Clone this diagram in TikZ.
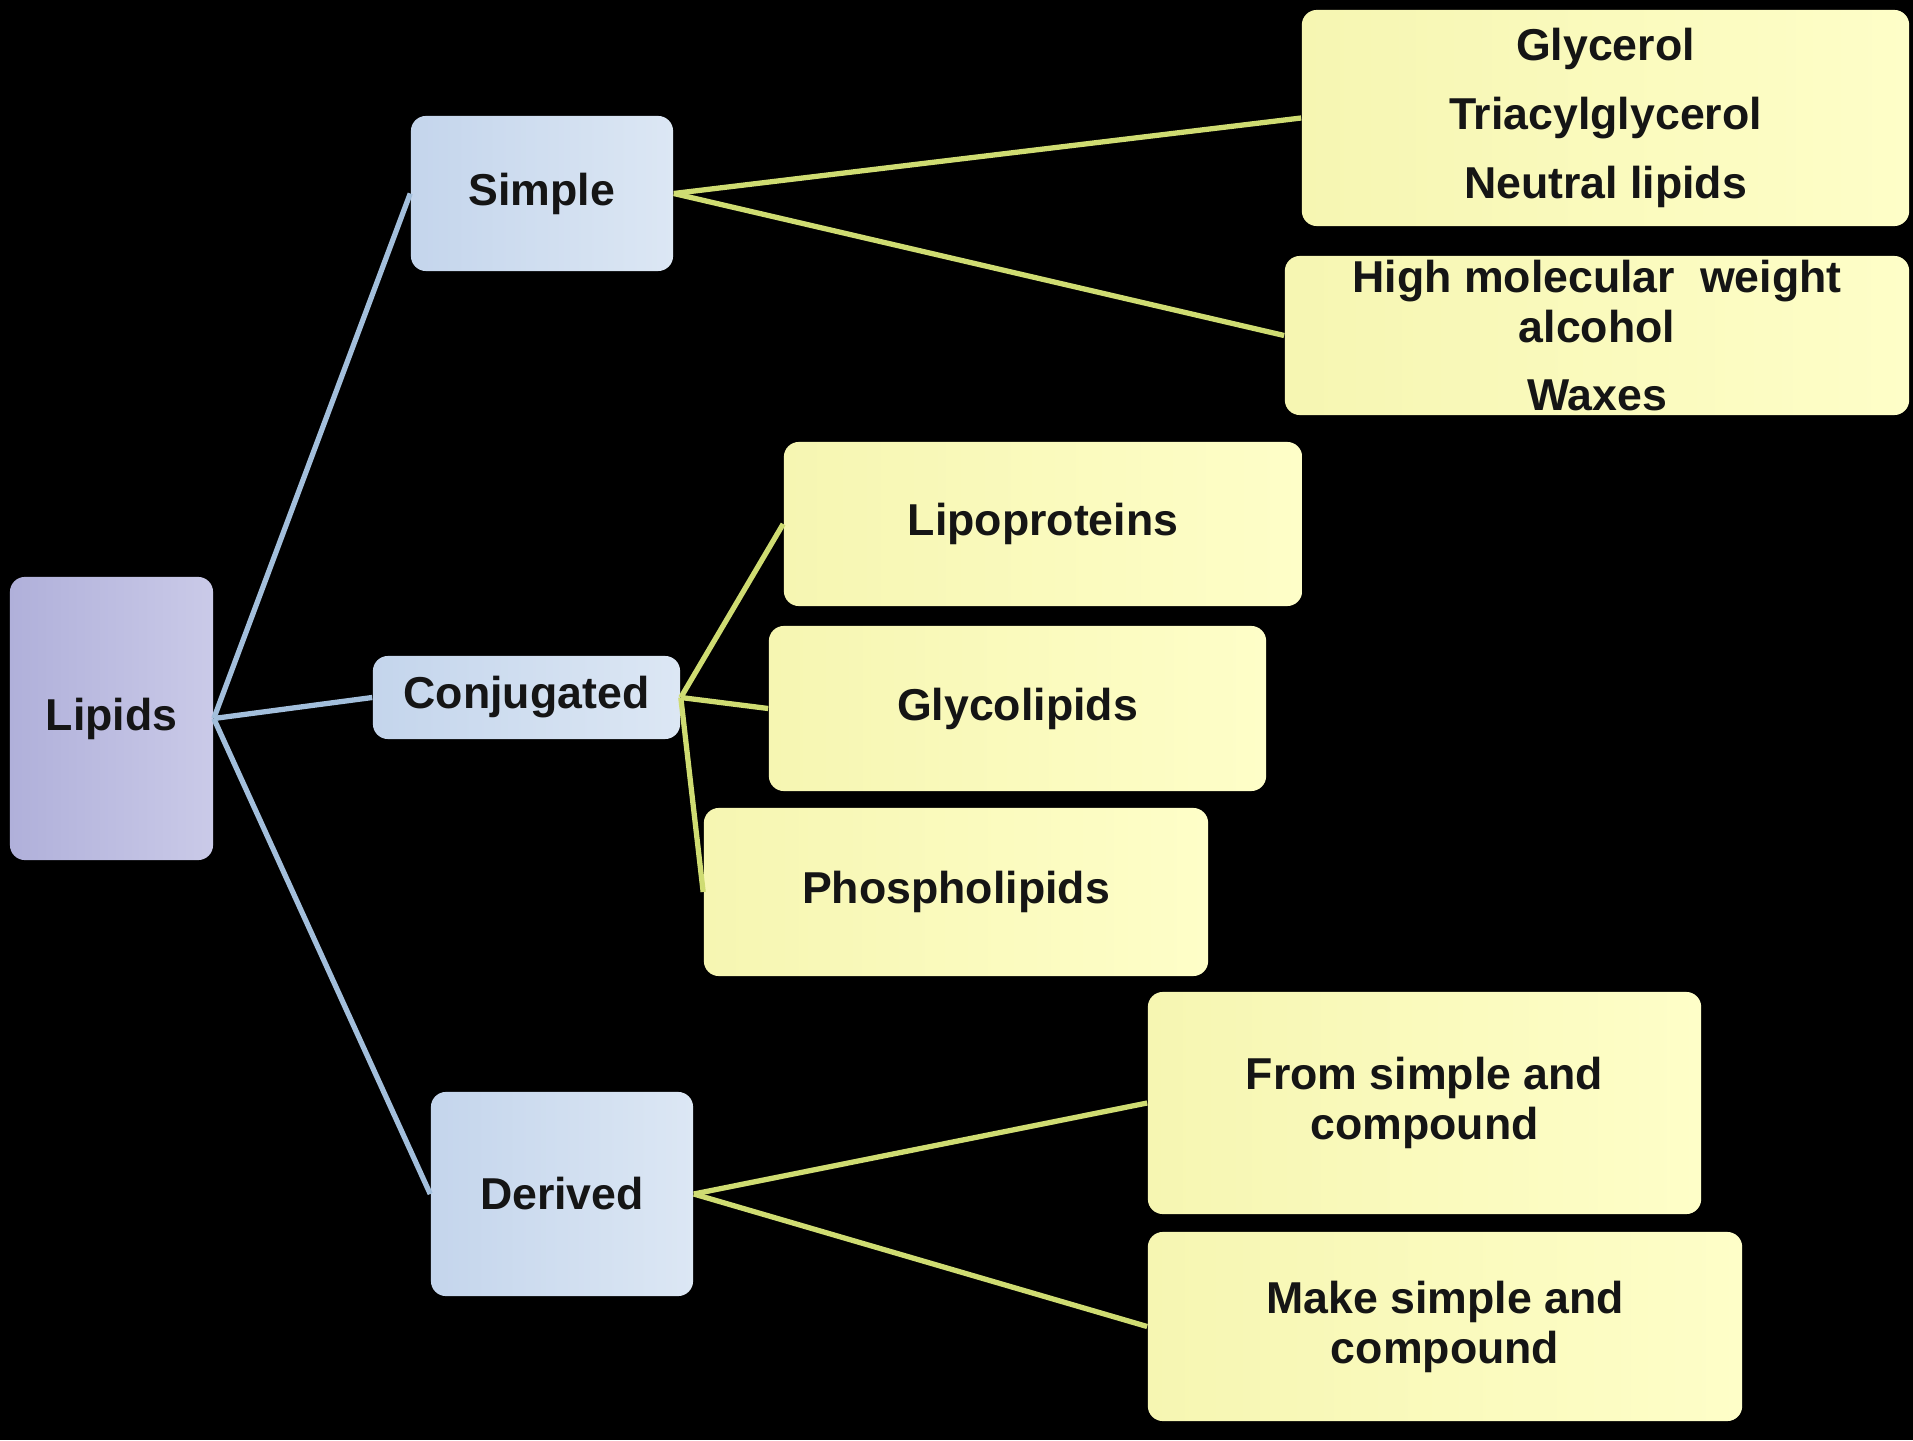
\documentclass[tikz,border=0pt]{standalone}
\usepackage{fontspec}
\setmainfont{Liberation Sans}
\usetikzlibrary{shadings}
\definecolor{txt}{HTML}{151515}
\definecolor{bluelink}{HTML}{A3BFDC}
\definecolor{greenlink}{HTML}{CFDC72}
\tikzset{
  x=0.01cm, y=-0.01cm,
  box/.style={rounded corners=0.15cm, inner sep=0pt, align=center,
    text=txt, font=\fontsize{12.7}{14.2}\selectfont\bfseries},
  lipbox/.style={box, left color=lipL, right color=lipR},
  catbox/.style={box, left color=catL, right color=catR},
  leafbox/.style={box, left color=leafL, right color=leafR},
  bluecon/.style={draw=bluelink, line width=1.5pt},
  greencon/.style={draw=greenlink, line width=1.5pt},
}
\definecolor{lipL}{HTML}{B0B0DA}
\definecolor{lipR}{HTML}{CACAE8}
\definecolor{catL}{HTML}{C4D5EC}
\definecolor{catR}{HTML}{DCE7F4}
\definecolor{leafL}{HTML}{F6F6B2}
\definecolor{leafR}{HTML}{FEFEC8}
\begin{document}
\begin{tikzpicture}
\fill[black] (0,0) rectangle (1913,1440);
\useasboundingbox (0,0) rectangle (1913,1440);

\node[lipbox, minimum width=2.03cm, minimum height=2.83cm] (lipids) at (111.5,718.5) {Lipids};
\node[catbox, minimum width=2.62cm, minimum height=1.55cm] (simple) at (542,193.5) {Simple};
\node[catbox, minimum width=3.07cm, minimum height=0.83cm] (conj) at (526.5,697.5) {Conjugated};
\node[catbox, minimum width=2.62cm, minimum height=2.04cm] (derived) at (562,1194) {Derived};

\node[leafbox, minimum width=6.07cm, minimum height=2.16cm] (glyc) at (1605.5,118) {Glycerol\\[5.3pt] Triacylglycerol\\[5.3pt] Neutral lipids};
\node[leafbox, minimum width=6.24cm, minimum height=1.59cm] (hmw) at (1597,335.5) {High molecular\ \ weight\\ alcohol\\[5.3pt] Waxes};
\node[leafbox, minimum width=5.18cm, minimum height=1.64cm] (lipo) at (1043,524) {Lipoproteins};
\node[leafbox, minimum width=4.97cm, minimum height=1.65cm] (glycol) at (1017.5,708.5) {Glycolipids};
\node[leafbox, minimum width=5.04cm, minimum height=1.68cm] (phos) at (956,892) {Phospholipids};
\node[leafbox, minimum width=5.53cm, minimum height=2.22cm] (from) at (1424.5,1103) {From simple and\\ compound};
\node[leafbox, minimum width=5.94cm, minimum height=1.89cm] (make) at (1445,1326.5) {Make simple and\\ compound};

\draw[bluecon] (lipids.east) -- (simple.west);
\draw[bluecon] (lipids.east) -- (conj.west);
\draw[bluecon] (lipids.east) -- (derived.west);

\draw[greencon] (simple.east) -- (glyc.west);
\draw[greencon] (simple.east) -- (hmw.west);
\draw[greencon] (conj.east) -- (lipo.west);
\draw[greencon] (conj.east) -- (glycol.west);
\draw[greencon] (conj.east) -- (phos.west);
\draw[greencon] (derived.east) -- (from.west);
\draw[greencon] (derived.east) -- (make.west);
\end{tikzpicture}
\end{document}
